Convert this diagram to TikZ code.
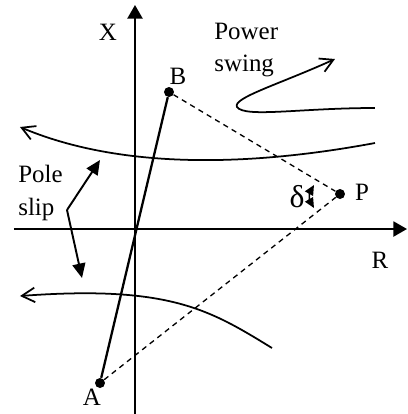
\documentclass[tikz,border=0pt]{standalone}
\usepackage{fontspec}
\setmainfont{Liberation Serif}
\usetikzlibrary{arrows.meta,positioning,calc}
\tikzset{
  % axes and points
  axis/.style={line width=1.1pt,-{Triangle[length=2.7mm,width=3mm]}},
  dot/.style={circle,fill=black,inner sep=0pt,minimum size=2mm},
  lbl/.style={font=\fontsize{14.2}{18.7}\selectfont,inner sep=0pt},
  chord/.style={line width=1.3pt},
  proj/.style={line width=0.75pt,dash pattern=on 3pt off 2.5pt},
  % impedance loci
  locus/.style={line width=1pt,-{Straight Barb[length=2.6mm,width=2.9mm]}},
  hint/.style={line width=1.1pt,-{Triangle[length=2.9mm,width=2.6mm]}},
  angmark/.style={line width=0.9pt,{Triangle[length=2mm,width=1.8mm]}-{Triangle[length=2mm,width=1.8mm]}},
}
\begin{document}
\begin{tikzpicture}[x=0.02cm,y=-0.02cm]
  \useasboundingbox (0,0) rectangle (408,414);
  % axes
  \coordinate (xlo) at (14,229);  \coordinate (xhi) at (407,229);
  \coordinate (ylo) at (135,414); \coordinate (yhi) at (135,5);
  \draw[axis] (xlo) -- (xhi);
  \draw[axis] (ylo) -- (yhi);
  \node[lbl] (xlab) at (108,32) {X};
  \node[lbl] (rlab) at (380,260) {R};
  % points
  \node[dot] (A) at (100,383) {};
  \node[dot] (B) at (169,92) {};
  \node[dot] (P) at (340,194) {};
  \node[lbl] (alab) at (92,397) {A};
  \node[lbl] (blab) at (178,76) {B};
  \node[lbl] (plab) at (362,192) {P};
  \draw[chord] (A) -- (B);
  \draw[proj] (B) -- (P);
  \draw[proj] (A) -- (P);
  \coordinate (d1) at (314,185); \coordinate (d2) at (314,208);
  \draw[angmark] (d1) to[bend right=30] (d2);
  \node[lbl,font=\fontsize{18}{20}\selectfont] (dlab) at (297,197) {δ};
  % power swing
  \coordinate (ps0) at (375,108); \coordinate (ps1) at (237,107);
  \coordinate (ps2) at (335,59);
  \draw[locus] (ps0) .. controls (300,108) and (245,118) .. (ps1)
    .. controls (232,98) and (280,84) .. (ps2);
  \node[lbl,align=left,anchor=west] (pslab) at (214,50) {Power\\swing};
  % pole slip
  \coordinate (up0) at (375,143); \coordinate (up1) at (20,127);
  \draw[locus] (up0) .. controls (230,170) and (110,165) .. (up1);
  \coordinate (lo0) at (272,348); \coordinate (lo1) at (20,296);
  \draw[locus] (lo0) .. controls (210,310) and (170,285) .. (lo1);
  \node[lbl,align=left,anchor=west] (slab) at (18,193) {Pole\\slip};
  \coordinate (sj) at (67,210);
  \coordinate (st1) at (100,160); \coordinate (st2) at (82,278);
  \draw[hint] (sj) -- (st1);
  \draw[hint] (sj) -- (st2);
\end{tikzpicture}
\end{document}
